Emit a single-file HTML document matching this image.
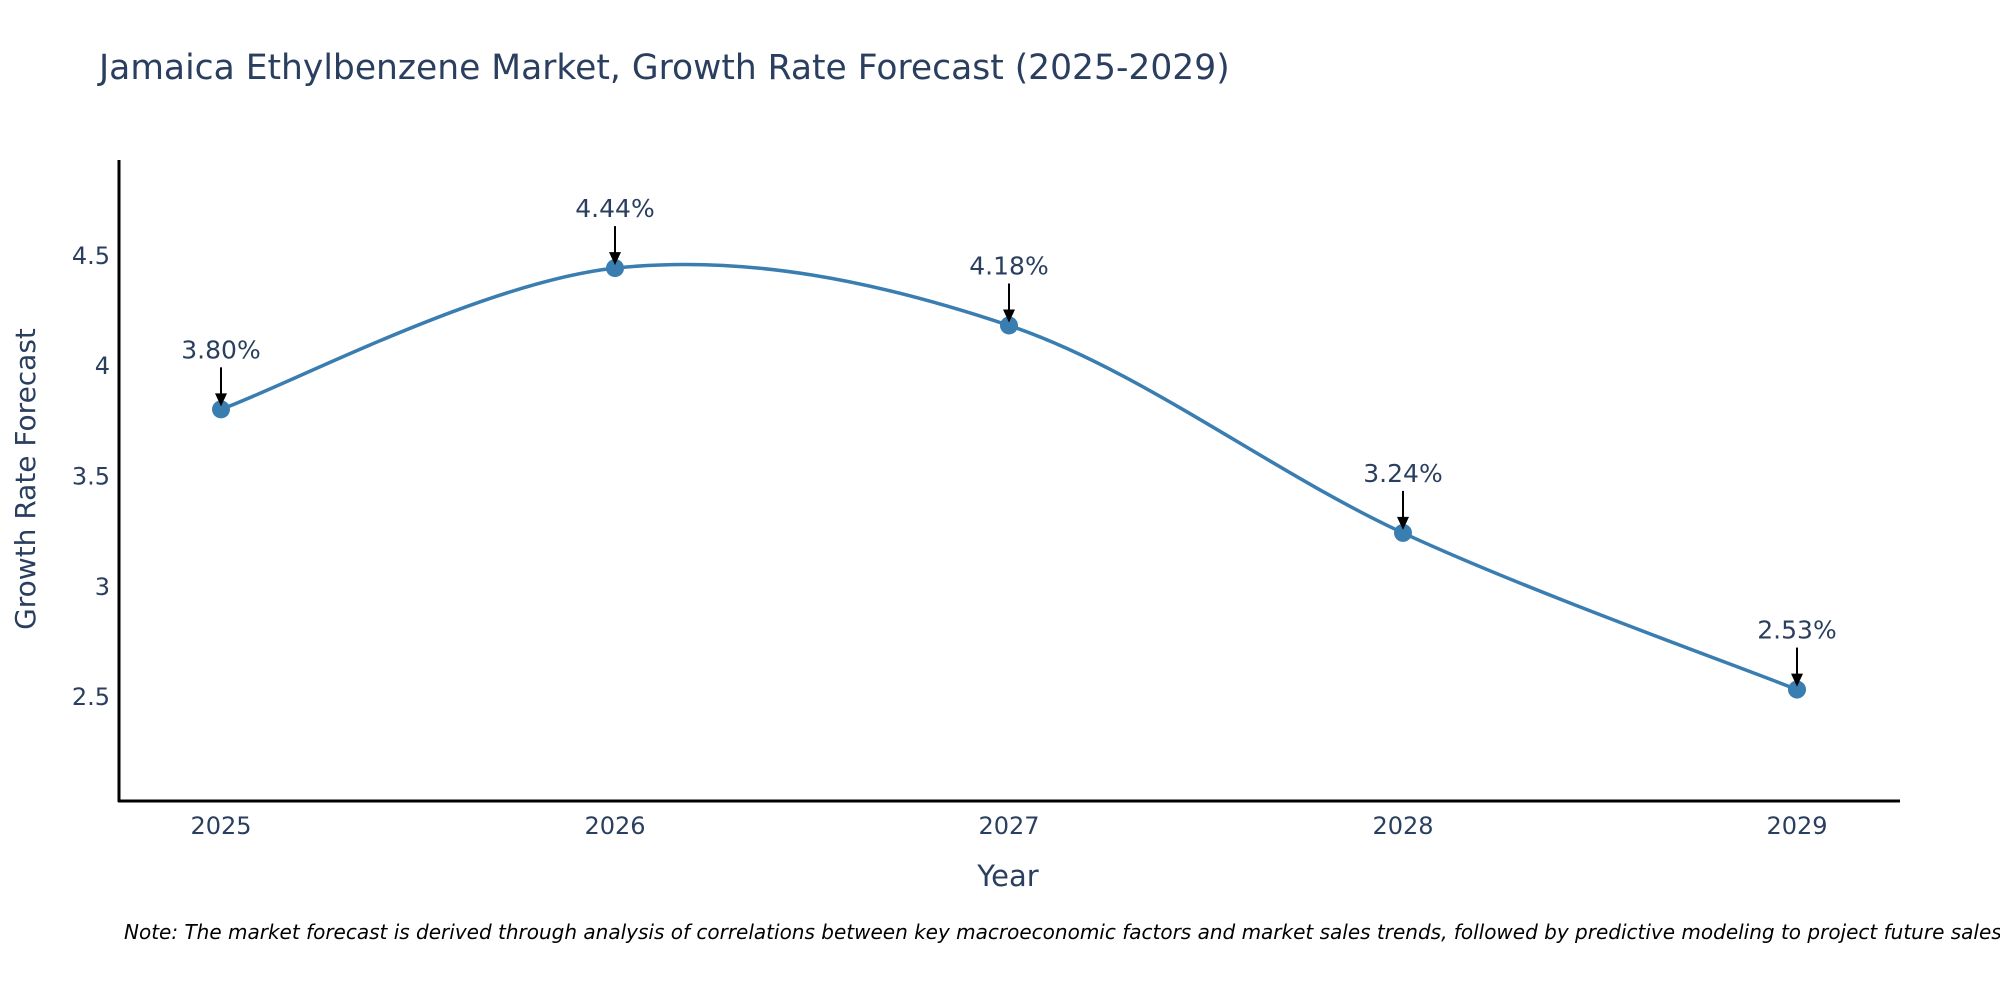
<!DOCTYPE html>
<html><head><meta charset="utf-8"><style>
html,body{margin:0;padding:0;background:#fff;}
svg{display:block;font-family:"DejaVu Sans","Liberation Sans",sans-serif;}
</style></head><body>
<svg id="chart" width="2000" height="1000" viewBox="0 0 2000 1000">
<text x="99" y="79" font-size="34.5" fill="#2a3f5f">Jamaica Ethylbenzene Market, Growth Rate Forecast (2025-2029)</text>
<g id="plot"></g>
<text x="1008" y="886" font-size="29" fill="#2a3f5f" text-anchor="middle">Year</text>
<text transform="translate(35,479) rotate(-90)" font-size="28" fill="#2a3f5f" text-anchor="middle">Growth Rate Forecast</text>
<text x="124" y="939" font-size="20" font-style="italic" fill="#000">Note: The market forecast is derived through analysis of correlations between key macroeconomic factors and market sales trends, followed by predictive modeling to project future sales.</text>
</svg>
<script>
const years = [2025, 2026, 2027, 2028, 2029];
const growthValues = [3.80, 4.44, 4.18, 3.24, 2.53];
const valueLabels = ["3.80%", "4.44%", "4.18%", "3.24%", "2.53%"];
const yTicks = [2.5, 3, 3.5, 4, 4.5];
const yTickLabels = ["2.5", "3", "3.5", "4", "4.5"];

const NS = "http://www.w3.org/2000/svg";
const plot = document.getElementById('plot');
const L = 119, R = 1900, T = 160, B = 801;
const yMin = 2.025, yMax = 4.93;
const x = v => 221 + (v - 2025) * 394;
const y = v => B - (v - yMin) / (yMax - yMin) * (B - T);
function mk(tag, attrs) { const e = document.createElementNS(NS, tag); for (const k in attrs) e.setAttribute(k, attrs[k]); plot.appendChild(e); return e; }

let e = mk('line', {x1: L, y1: T, x2: L, y2: B + 1, stroke: '#000', 'stroke-width': 3});


e = mk('line', {x1: L - 1, y1: B, x2: R, y2: B, stroke: '#000', 'stroke-width': 3});



yTicks.forEach((t, i) => {
  const tx = mk('text', {x: 110, y: y(t) + 9, 'font-size': 24, fill: '#2a3f5f', 'text-anchor': 'end'});
  tx.textContent = yTickLabels[i];
  
  
});
years.forEach(yr => {
  const tx = mk('text', {x: x(yr), y: 834, 'font-size': 24, fill: '#2a3f5f', 'text-anchor': 'middle'});
  tx.textContent = String(yr);
  
  
});

const pts = years.map((yr, i) => [x(yr), y(growthValues[i])]);
let d = `M${pts[0][0]},${pts[0][1]}`;
for (let i = 0; i < pts.length - 1; i++) {
  const p0 = pts[Math.max(0, i - 1)], p1 = pts[i], p2 = pts[i + 1], p3 = pts[Math.min(pts.length - 1, i + 2)];
  const k = 1 / 6;
  const c1 = [p1[0] + (p2[0] - p0[0]) * k, p1[1] + (p2[1] - p0[1]) * k];
  const c2 = [p2[0] - (p3[0] - p1[0]) * k, p2[1] - (p3[1] - p1[1]) * k];
  d += ` C${c1[0]},${c1[1]} ${c2[0]},${c2[1]} ${p2[0]},${p2[1]}`;
}
const line = mk('path', {d: d, fill: 'none', stroke: '#3a7db0', 'stroke-width': 3.5});



pts.forEach((p, i) => {
  const c = mk('circle', {cx: p[0], cy: p[1], r: 9, fill: '#3a7db0'});
  
  
  const a = mk('line', {x1: p[0], y1: p[1] - 42, x2: p[0], y2: p[1] - 14, stroke: '#000', 'stroke-width': 2});
  
  
  const h = mk('polygon', {points: `${p[0]-6},${p[1]-16} ${p[0]+6},${p[1]-16} ${p[0]},${p[1]-3}`, fill: '#000'});
  
  
  const t = mk('text', {x: p[0], y: p[1] - 51, 'font-size': 25, fill: '#2a3f5f', 'text-anchor': 'middle'});
  t.textContent = valueLabels[i];
  
  
});
</script>
</body></html>
